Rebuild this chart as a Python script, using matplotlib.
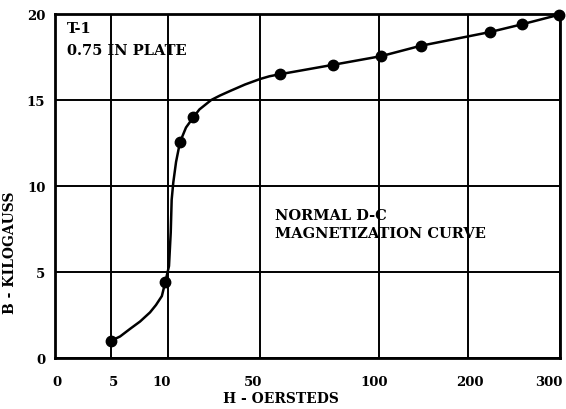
import numpy as np
import matplotlib
matplotlib.use("Agg")
import matplotlib.pyplot as plt
from matplotlib.transforms import ScaledTranslation

# Measured points of the magnetization curve (H in oersteds, B in kilogauss)
h_points = [5, 9.8, 15.4, 21.2, 58.5, 81, 103, 147, 224, 259, 299]
b_points = [1.0, 4.4, 12.55, 14.0, 16.5, 17.05, 17.55, 18.15, 18.95, 19.4, 19.95]

# Faired curve drawn through the measurements
curve_h = [5, 5.8, 6.7, 7.57, 8.45, 8.98, 9.5, 9.8, 10.65, 11.4, 11.8, 12.5,
           13.7, 15.4, 18, 21.2, 23.8, 28.9, 32.7, 37, 43.5, 50, 54, 58.5, 81,
           103, 147, 224, 259, 299]
curve_b = [1.0, 1.25, 1.7, 2.12, 2.65, 3.08, 3.6, 4.4, 5.35, 7.3, 9.2, 10.2,
           11.4, 12.55, 13.4, 14.0, 14.45, 15.0, 15.26, 15.52, 15.9, 16.22,
           16.38, 16.5, 17.05, 17.55, 18.15, 18.95, 19.4, 19.95]

x_ticks = [0, 5, 10, 50, 100, 200, 300]
y_ticks = [0, 5, 10, 15, 20]

# Piecewise-linear abscissa: each labelled value sits at its own grid position
scale_h = np.array([0, 5, 10, 50, 100, 200, 300], dtype=float)
scale_u = np.array([0, 56, 112.5, 205, 323.5, 413, 504.5], dtype=float)


def fwd(x):
    return np.interp(np.asarray(x, dtype=float), scale_h, scale_u)


def inv(u):
    return np.interp(np.asarray(u, dtype=float), scale_u, scale_h)


plt.rcParams["font.family"] = ["DejaVu Serif"]
plt.rcParams["font.weight"] = "bold"

fig = plt.figure(figsize=(5.66, 4.10), dpi=100)
ax = fig.add_axes([55 / 566, 1 - 359 / 410, 504.5 / 566, 344 / 410])
ax.set_xscale("function", functions=(fwd, inv))
ax.set_xlim(0, 300)
ax.set_ylim(0, 20)

ax.set_xticks(x_ticks)
ax.set_xticklabels([str(t) for t in x_ticks])
ax.set_yticks(y_ticks)
ax.set_yticklabels([str(t) for t in y_ticks])
ax.xaxis.set_minor_locator(matplotlib.ticker.NullLocator())
ax.tick_params(axis="both", length=0, labelsize=9.5)
ax.tick_params(axis="x", pad=12)
ax.tick_params(axis="y", pad=7)
for lab in ax.get_xticklabels() + ax.get_yticklabels():
    lab.set_fontweight("bold")

# small horizontal nudges of individual tick labels (in points)
nudges = {"0": 1.5, "5": 1.5, "10": -4, "50": -5, "100": -3, "200": 1, "300": -8}
for lab in ax.get_xticklabels():
    dx = nudges.get(lab.get_text(), 0) / 72
    lab.set_transform(lab.get_transform() + ScaledTranslation(dx, 0, fig.dpi_scale_trans))

ax.grid(True, color="black", linewidth=1.4)
ax.set_axisbelow(True)
for s in ax.spines.values():
    s.set_linewidth(2.0)
    s.set_color("black")

ax.plot(curve_h, curve_b, color="black", linewidth=1.8, zorder=3,
        solid_joinstyle="round")
ax.plot(h_points, b_points, "o", color="black", markersize=7.5, zorder=4,
        clip_on=False)

ax.set_xlabel("H - OERSTEDS", fontsize=10, fontweight="bold")
ax.xaxis.set_label_coords((281 - 55) / 504.5, -0.097)
ax.set_ylabel("B - KILOGAUSS", fontsize=10, fontweight="bold")
ax.yaxis.set_label_coords(-0.075, 0.308)

ax.text(12 / 504.5, 1 - 7 / 344, "T-1", transform=ax.transAxes,
        fontsize=10.5, fontweight="bold", va="top", ha="left")
ax.text(12 / 504.5, 1 - 29 / 344, "0.75 IN PLATE", transform=ax.transAxes,
        fontsize=10.5, fontweight="bold", va="top", ha="left")
ax.text(220 / 504.5, 1 - 194 / 344, "NORMAL D-C\nMAGNETIZATION CURVE",
        transform=ax.transAxes, fontsize=10.5, fontweight="bold", va="top",
        ha="left", linespacing=1.4)

fig.savefig("out.png", dpi=100)
